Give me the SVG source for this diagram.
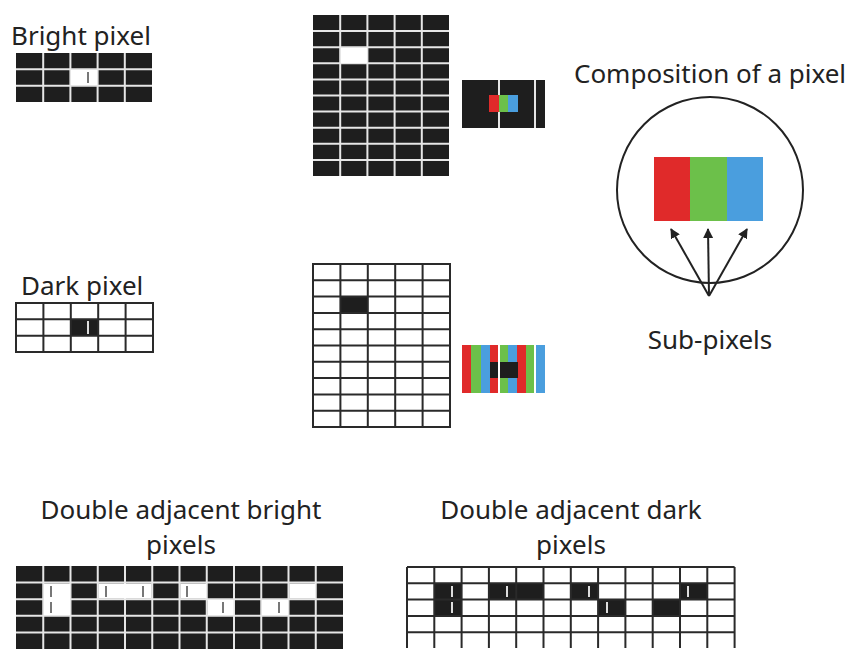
<svg xmlns="http://www.w3.org/2000/svg" width="853" height="657" viewBox="0 0 853 657">
<style>
text{font-family:"Noto Sans","DejaVu Sans",sans-serif;fill:#222;font-size:26px}
.bk{fill:#1e1e1e}
.wl{stroke:#e6e6e6;stroke-width:2;fill:none}
.bl{stroke:#2a2a2a;stroke-width:2;fill:none}
.gl{stroke:#777;stroke-width:2}
.tl{stroke:#ddd;stroke-width:2}
</style>
<defs><marker id="ah" markerWidth="10" markerHeight="10" refX="9" refY="5" orient="auto" markerUnits="userSpaceOnUse"><path d="M0,0 L10,5 L0,10 z" fill="#222"/></marker></defs>
<rect width="853" height="657" fill="#fff"/>

<g id="bright-pixel">
<text x="11" y="45">Bright pixel</text>
<rect class="bk" x="16" y="53" width="136" height="49"/>
<path class="wl" d="M43.2 53V102M70.4 53V102M97.6 53V102M124.8 53V102M16 69.3H152M16 85.7H152"/>
<rect x="71" y="70" width="26" height="15" fill="#fff"/>
<line class="gl" x1="88" y1="72" x2="88" y2="83"/>
</g>

<g id="bright-grid">
<rect class="bk" x="313" y="15" width="136" height="161"/>
<path class="wl" d="M340.2 15V176M367.4 15V176M394.6 15V176M421.8 15V176M313 31.1H449M313 47.2H449M313 63.3H449M313 79.4H449M313 95.5H449M313 111.6H449M313 127.7H449M313 143.8H449M313 159.9H449"/>
<rect x="341" y="48" width="26" height="15" fill="#fff"/>
</g>

<g id="bright-zoom">
<rect class="bk" x="462" y="80" width="83" height="48"/>
<path class="wl" d="M499 80V128M535 80V128"/>
<rect x="489" y="95" width="10" height="17" fill="#e02a2a"/>
<rect x="499" y="95" width="9" height="17" fill="#6cc04a"/>
<rect x="508" y="95" width="10" height="17" fill="#4a9ede"/>
</g>

<g id="dark-pixel">
<text x="21" y="295">Dark pixel</text>
<rect x="71" y="319" width="27" height="17" class="bk"/>
<rect x="16" y="303" width="137" height="49" class="bl"/>
<path class="bl" d="M43.4 303V352M70.8 303V352M98.2 303V352M125.6 303V352M16 319.3H153M16 335.7H153"/>
<line class="tl" x1="88" y1="321" x2="88" y2="334"/>
</g>

<g id="dark-grid">
<rect x="340.4" y="296.6" width="27.4" height="16.3" class="bk"/>
<rect x="313" y="264" width="137" height="163" class="bl"/>
<path class="bl" d="M340.4 264V427M367.8 264V427M395.2 264V427M422.6 264V427M313 280.3H450M313 296.6H450M313 312.9H450M313 329.2H450M313 345.5H450M313 361.8H450M313 378.1H450M313 394.4H450M313 410.7H450"/>
</g>

<g id="dark-zoom">
<rect x="462" y="345" width="9" height="48" fill="#e02a2a"/>
<rect x="471" y="345" width="10" height="48" fill="#6cc04a"/>
<rect x="481" y="345" width="9" height="48" fill="#4a9ede"/>
<rect x="490" y="345" width="8" height="48" fill="#e02a2a"/>
<rect x="500" y="345" width="8" height="48" fill="#6cc04a"/>
<rect x="508" y="345" width="9" height="48" fill="#4a9ede"/>
<rect x="517" y="345" width="9" height="48" fill="#e02a2a"/>
<rect x="526" y="345" width="8" height="48" fill="#6cc04a"/>
<rect x="536" y="345" width="9" height="48" fill="#4a9ede"/>
<rect class="bk" x="490" y="362" width="8" height="16"/>
<rect class="bk" x="500" y="362" width="18" height="16"/>
</g>

<g id="composition">
<text x="710" y="83" text-anchor="middle">Composition of a pixel</text>
<circle cx="710" cy="190" r="93" fill="none" stroke="#222" stroke-width="2"/>
<rect x="654" y="157" width="36" height="64" fill="#e02a2a"/>
<rect x="690" y="157" width="37" height="64" fill="#6cc04a"/>
<rect x="727" y="157" width="36" height="64" fill="#4a9ede"/>
<text x="710" y="349" text-anchor="middle">Sub-pixels</text>
</g>

<g id="connectors" stroke="#222" stroke-width="2" fill="none">
<line x1="709" y1="296" x2="671" y2="229" marker-end="url(#ah)"/>
<line x1="709" y1="296" x2="708" y2="229" marker-end="url(#ah)"/>
<line x1="709" y1="296" x2="747" y2="229" marker-end="url(#ah)"/>
</g>

<g id="double-bright">
<text x="181" y="519" text-anchor="middle">Double adjacent bright</text>
<text x="181" y="554" text-anchor="middle">pixels</text>
<rect class="bk" x="16" y="566" width="327" height="83"/>
<path class="wl" d="M43.25 566V649M70.5 566V649M97.75 566V649M125 566V649M152.25 566V649M179.5 566V649M206.75 566V649M234 566V649M261.25 566V649M288.5 566V649M315.75 566V649M16 582.6H343M16 599.2H343M16 615.8H343M16 632.4H343"/>
<g fill="#fff">
<rect x="44" y="583.5" width="26" height="31.5"/>
<rect x="98.5" y="583.5" width="53" height="15"/>
<rect x="180.3" y="583.5" width="26" height="15"/>
<rect x="289.3" y="583.5" width="26" height="15"/>
<rect x="207.5" y="600" width="26" height="15"/>
<rect x="262" y="600" width="26" height="15"/>
</g>
<path class="gl" d="M51 586V597M51 602V613M106 586V597M143 586V597M187 586V597M223 602V613M279 602V613"/>
</g>

<g id="double-dark">
<text x="571" y="519" text-anchor="middle">Double adjacent dark</text>
<text x="571" y="554" text-anchor="middle">pixels</text>
<g class="bk">
<rect x="434.3" y="583.3" width="27.3" height="32.6"/>
<rect x="488.9" y="583.3" width="54.6" height="16.3"/>
<rect x="570.8" y="583.3" width="27.3" height="16.3"/>
<rect x="680" y="583.3" width="27.3" height="16.3"/>
<rect x="598.1" y="599.6" width="27.3" height="16.3"/>
<rect x="652.7" y="599.6" width="27.3" height="16.3"/>
</g>
<path class="bl" d="M407 567V648M434.3 567V648M461.6 567V648M488.9 567V648M516.2 567V648M543.5 567V648M570.8 567V648M598.1 567V648M625.4 567V648M652.7 567V648M680 567V648M707.3 567V648M734.6 567V648M407 567H734.6M407 583.3H734.6M407 599.6H734.6M407 615.9H734.6M407 632.2H734.6"/>
<path class="tl" d="M452 586V597M452 602V613M507 586V597M589 586V597M607 602V613M688 586V597"/>
</g>
</svg>
